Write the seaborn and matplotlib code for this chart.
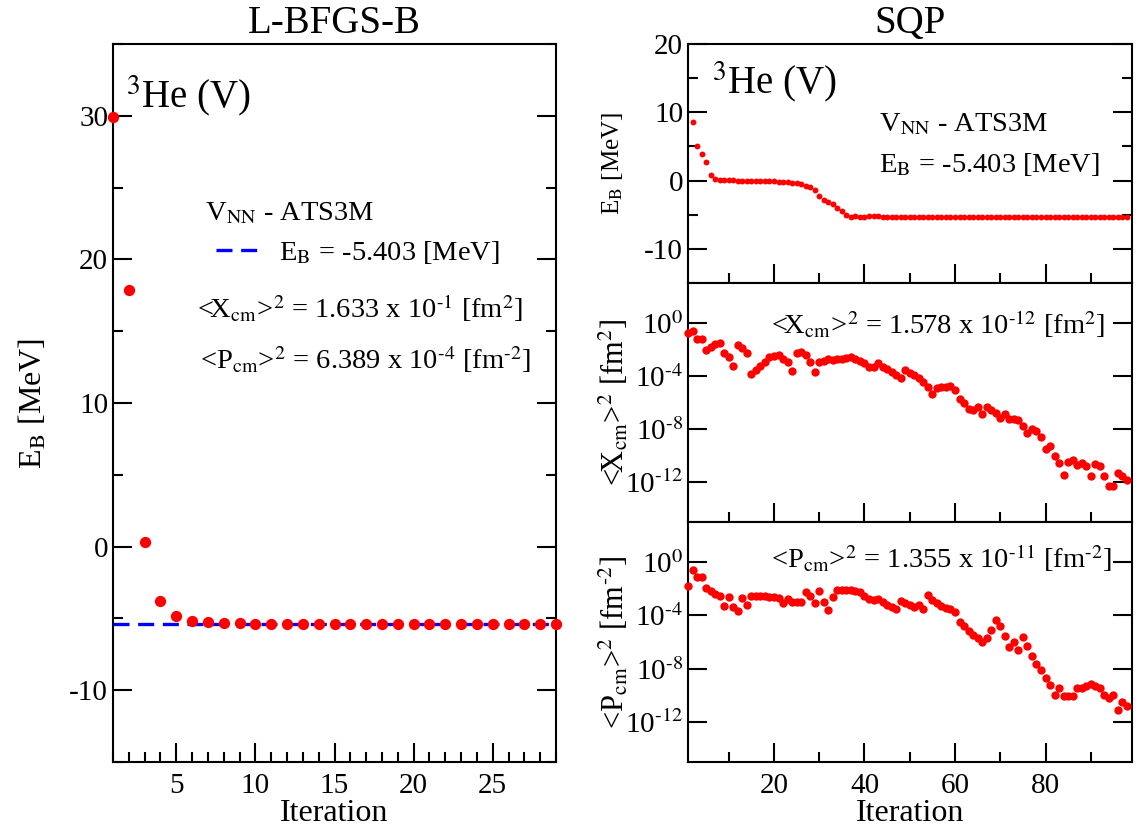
import numpy as np
import pandas as pd
import matplotlib
matplotlib.use("Agg")
import matplotlib.pyplot as plt
import seaborn as sns
from matplotlib.ticker import MultipleLocator, FixedLocator, NullLocator, FixedFormatter, NullFormatter
from matplotlib.lines import Line2D

# ---------------- data ----------------
lbfgs_iter = list(range(1, 30))
lbfgs_E = [29.9, 17.9, 0.3, -3.8, -4.85, -5.15, -5.25, -5.3, -5.33, -5.36,
           -5.38, -5.39, -5.4, -5.4, -5.4, -5.4, -5.4, -5.4, -5.4, -5.4,
           -5.4, -5.4, -5.4, -5.4, -5.4, -5.4, -5.4, -5.4, -5.4]
exact_E = -5.403

sqp_iter = list(range(1, 99))
sqp_E_iter = list(range(2, 99))
sqp_E = [8.6, 5.0, 3.9, 2.65, 0.8, 0.2, 0.12, 0.08, 0.05, 0.03,
         0.0, -0.02, -0.03, -0.05, -0.07, -0.08, -0.1, -0.12, -0.13, -0.14,
         -0.15, -0.2, -0.3, -0.4, -0.5, -0.75, -1.0, -1.4, -2.2, -2.85,
         -3.2, -3.45, -4.0, -4.5, -5.0, -5.35, -5.2, -5.3, -5.3, -5.25,
         -5.2, -5.15, -5.3, -5.35, -5.4, -5.4, -5.4, -5.4, -5.4, -5.4,
         -5.4, -5.4, -5.4, -5.4, -5.4, -5.4, -5.4, -5.4, -5.4, -5.4,
         -5.4, -5.4, -5.4, -5.4, -5.4, -5.4, -5.4, -5.4, -5.4, -5.4,
         -5.4, -5.4, -5.4, -5.4, -5.4, -5.4, -5.4, -5.4, -5.4, -5.4,
         -5.4, -5.4, -5.4, -5.4, -5.4, -5.4, -5.4, -5.4, -5.4, -5.4,
         -5.4, -5.4, -5.4, -5.4, -5.4, -5.4, -5.4]

xcm_log10 = [-0.8, -0.63, -1.25, -1.18, -2.05, -1.8, -1.6, -1.5, -2.25, -2.55,
             -3.25, -1.68, -1.93, -2.25, -3.88, -3.55, -3.25, -2.93, -2.55, -2.5,
             -2.43, -2.75, -2.93, -3.63, -2.3, -2.23, -2.43, -2.93, -3.68, -2.93,
             -2.85, -2.7, -2.8, -2.75, -2.7, -2.63, -2.55, -2.75, -2.85, -3.05,
             -3.3, -3.35, -3.05, -3.3, -3.5, -3.73, -3.93, -4.12, -3.55, -3.75,
             -3.93, -4.18, -4.43, -4.85, -5.35, -4.93, -4.8, -4.8, -4.75, -5.05,
             -5.75, -6.0, -6.5, -6.6, -6.35, -6.85, -6.35, -6.55, -6.8, -7.18,
             -6.85, -7.25, -7.25, -7.3, -7.8, -8.3, -7.98, -8.18, -8.6, -9.5,
             -9.3, -10.0, -10.55, -11.43, -10.5, -10.35, -10.7, -10.55, -10.75, -11.5,
             -10.6, -10.75, -11.5, -12.3, -12.3, -11.3, -11.55, -11.8]

pcm_log10 = [-1.83, -0.63, -1.13, -1.15, -1.95, -2.2, -2.38, -2.58, -3.28, -2.63,
             -3.38, -3.65, -2.7, -3.2, -2.58, -2.53, -2.53, -2.58, -2.63, -2.65,
             -2.7, -3.08, -2.78, -3.0, -3.03, -3.03, -2.28, -2.53, -3.08, -2.15,
             -3.03, -3.63, -2.63, -2.13, -2.13, -2.13, -2.08, -2.2, -2.28, -2.53,
             -2.78, -2.83, -2.78, -3.03, -3.2, -3.38, -3.53, -2.95, -3.05, -3.2,
             -3.38, -3.2, -3.53, -2.45, -2.83, -3.08, -3.28, -3.45, -3.53, -3.78,
             -4.53, -4.83, -5.15, -5.45, -5.7, -6.03, -5.7, -5.08, -4.33, -4.78,
             -5.58, -6.38, -6.03, -6.63, -5.63, -6.33, -7.03, -7.63, -8.13, -8.7,
             -9.2, -9.95, -9.45, -10.03, -10.08, -10.03, -9.48, -9.45, -9.33, -9.15,
             -9.33, -9.45, -9.95, -10.2, -10.0, -11.13, -10.53, -10.78]

log_ticks = [0, -4, -8, -12]
log_tick_labels = [r"10$^{0}$", r"10$^{\text{-}4}$", r"10$^{\text{-}8}$", r"10$^{\text{-}12}$"]

# ---------------- style ----------------
sns.set_theme(style="ticks")
plt.rcParams['font.family'] = ['Liberation Serif', 'DejaVu Serif']
plt.rcParams['mathtext.fontset'] = 'stix'
plt.rcParams['axes.unicode_minus'] = False
plt.rcParams['axes.edgecolor'] = 'black'
plt.rcParams['axes.linewidth'] = 1.5
plt.rcParams['xtick.color'] = 'black'
plt.rcParams['ytick.color'] = 'black'
plt.rcParams['text.color'] = 'black'
plt.rcParams['axes.labelcolor'] = 'black'

W, H = 1141, 834
fig = plt.figure(figsize=(W / 100, H / 100), dpi=100)


def px_axes(x0, y0, x1, y1):
    return fig.add_axes([x0 / W, 1 - y1 / H, (x1 - x0) / W, (y1 - y0) / H])


def style_ticks(ax, labelsize=21):
    ax.tick_params(axis='both', which='both', direction='in', width=1.5,
                   labelsize=labelsize, colors='black')
    ax.tick_params(axis='both', which='major', length=14)
    ax.tick_params(axis='both', which='minor', length=7)
    ax.tick_params(axis='y', which='both', left=True, right=True)
    ax.tick_params(axis='x', which='both', bottom=True, top=False, pad=8)
    for s in ax.spines.values():
        s.set_visible(True)
        s.set_linewidth(1.5)
        s.set_color('black')


# ---------------- left panel ----------------
axL = px_axes(113, 44, 556, 762)
df_l = pd.DataFrame({"Iteration": lbfgs_iter, "E": lbfgs_E})
sns.lineplot(x=[min(lbfgs_iter), max(lbfgs_iter)], y=[exact_E, exact_E], ax=axL,
             color='blue', lw=2.4, dashes=False, zorder=2)
axL.lines[-1].set_dashes([4.8, 2.6])
sns.scatterplot(data=df_l, x="Iteration", y="E", ax=axL, color='red', s=66,
                linewidth=0, clip_on=False, zorder=3, legend=False)
axL.set_xlim(1, 29)
axL.set_ylim(-15, 35)
axL.xaxis.set_major_locator(FixedLocator([5, 10, 15, 20, 25]))
axL.xaxis.set_minor_locator(MultipleLocator(1))
axL.yaxis.set_major_locator(MultipleLocator(10))
axL.yaxis.set_minor_locator(MultipleLocator(5))
style_ticks(axL)
axL.set_xlabel("Iteration", fontsize=23, labelpad=0)
axL.set_ylabel(r"E$_{\rm B}$ [MeV]", fontsize=23)
axL.yaxis.set_label_coords(-0.145, 0.5)
axL.set_title("L-BFGS-B", fontsize=28, pad=8)

TXT = 20.5
axL.text(0.03, 0.96, r"$^{3}$He (V)", transform=axL.transAxes, fontsize=28,
         va='top', ha='left')
axL.text(0.208, 0.755, r"V$_{\rm NN}$ - ATS3M", transform=axL.transAxes,
         fontsize=TXT, va='baseline', ha='left')
leg_handle = Line2D([], [], color='blue', lw=2.4, dashes=[4.8, 2.6])
axL.legend([leg_handle], [r"E$_{\rm B}$ = -5.403 [MeV]"], loc='center left',
           bbox_to_anchor=(0.233, 0.709), frameon=False, fontsize=TXT,
           handlelength=1.45, handletextpad=0.75, borderpad=0, borderaxespad=0)
axL.text(0.19, 0.619, r"<X$_{\rm cm}$>$^{2}$ = 1.633 x 10$^{\text{-}1}$ [fm$^{2}$]",
         transform=axL.transAxes, fontsize=TXT, va='baseline', ha='left')
axL.text(0.196, 0.548, r"<P$_{\rm cm}$>$^{2}$ = 6.389 x 10$^{\text{-}4}$ [fm$^{\text{-}2}$]",
         transform=axL.transAxes, fontsize=TXT, va='baseline', ha='left')

# ---------------- right panels ----------------
axT = px_axes(688, 44, 1131.5, 283)
axM = px_axes(688, 283, 1131.5, 522)
axB = px_axes(688, 522, 1131.5, 762)

df_e = pd.DataFrame({"Iteration": sqp_E_iter, "E": sqp_E})
sns.scatterplot(data=df_e, x="Iteration", y="E", ax=axT, color='red', s=18,
                linewidth=0, clip_on=False, zorder=3, legend=False)
axT.set_ylim(-15, 20)
axT.yaxis.set_major_locator(MultipleLocator(10))
axT.yaxis.set_minor_locator(MultipleLocator(5))

df_x = pd.DataFrame({"Iteration": sqp_iter, "X": np.power(10.0, xcm_log10)})
sns.scatterplot(data=df_x, x="Iteration", y="X", ax=axM, color='red', s=36,
                linewidth=0, clip_on=False, zorder=3, legend=False)
df_p = pd.DataFrame({"Iteration": sqp_iter, "P": np.power(10.0, pcm_log10)})
sns.scatterplot(data=df_p, x="Iteration", y="P", ax=axB, color='red', s=36,
                linewidth=0, clip_on=False, zorder=3, legend=False)

for ax in (axM, axB):
    ax.set_yscale('log')
    ax.set_ylim(1e-15, 1e3)
    ax.yaxis.set_major_locator(FixedLocator([10.0 ** t for t in log_ticks]))
    ax.yaxis.set_major_formatter(FixedFormatter(log_tick_labels))
    ax.yaxis.set_minor_locator(NullLocator())
    ax.yaxis.set_minor_formatter(NullFormatter())

for ax in (axT, axM, axB):
    ax.set_xlim(1, 99)
    ax.xaxis.set_major_locator(FixedLocator([20, 40, 60, 80]))
    ax.xaxis.set_minor_locator(FixedLocator([10, 30, 50, 70, 90]))
    style_ticks(ax)
    ax.set_xlabel("")

axT.tick_params(axis='x', labelbottom=False)
axM.tick_params(axis='x', labelbottom=False)
axB.set_xlabel("Iteration", fontsize=23, labelpad=0)
axT.set_title("SQP", fontsize=28, pad=8)

axT.set_ylabel(r"E$_{\rm B}$ [MeV]", fontsize=18)
axM.set_ylabel(r"<X$_{\rm cm}$>$^{2}$ [fm$^{2}$]", fontsize=22)
axB.set_ylabel(r"<P$_{\rm cm}$>$^{2}$ [fm$^{\text{-}2}$]", fontsize=22)
axT.yaxis.set_label_coords(-0.142, 0.5)
axM.yaxis.set_label_coords(-0.128, 0.5)
axB.yaxis.set_label_coords(-0.128, 0.5)

axT.text(0.055, 0.935, r"$^{3}$He (V)", transform=axT.transAxes, fontsize=28,
         va='top', ha='left')
axT.text(0.43, 0.635, r"V$_{\rm NN}$ - ATS3M", transform=axT.transAxes,
         fontsize=TXT, va='baseline', ha='left')
axT.text(0.43, 0.465, r"E$_{\rm B}$ = -5.403 [MeV]", transform=axT.transAxes,
         fontsize=TXT, va='baseline', ha='left')
axM.text(0.188, 0.786, r"<X$_{\rm cm}$>$^{2}$ = 1.578 x 10$^{\text{-}12}$ [fm$^{2}$]",
         transform=axM.transAxes, fontsize=TXT, va='baseline', ha='left')
axB.text(0.188, 0.808, r"<P$_{\rm cm}$>$^{2}$ = 1.355 x 10$^{\text{-}11}$ [fm$^{\text{-}2}$]",
         transform=axB.transAxes, fontsize=TXT, va='baseline', ha='left')

fig.savefig("out.png", dpi=100)
